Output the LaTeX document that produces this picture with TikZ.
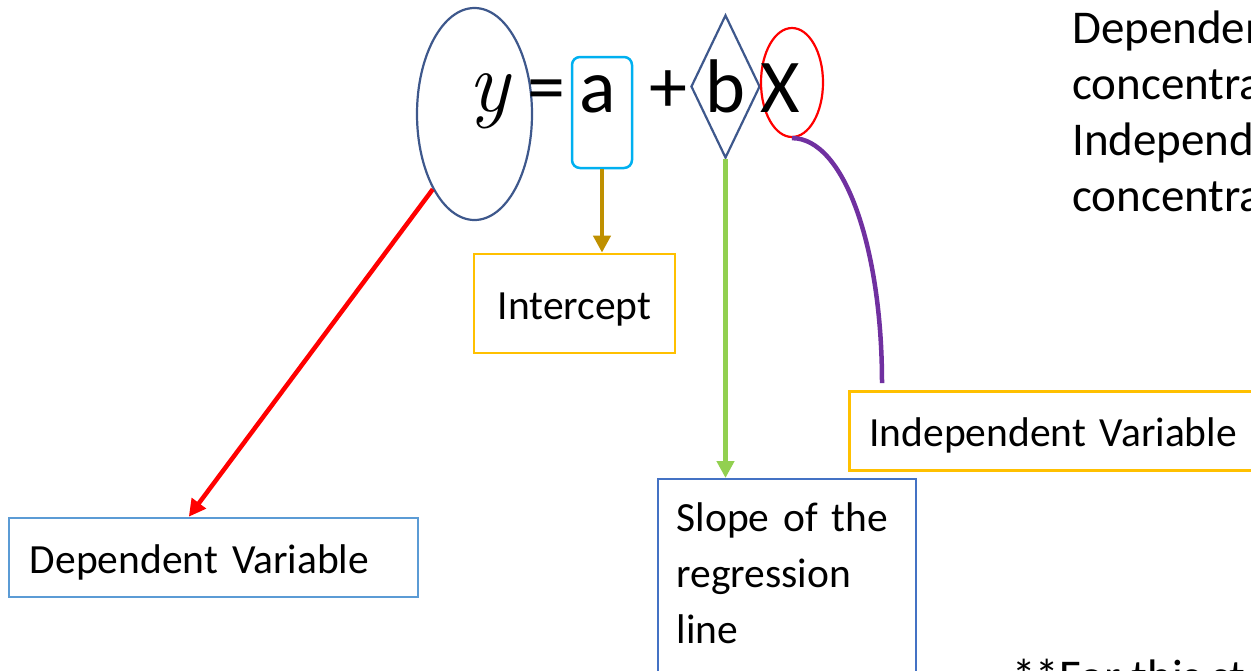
\documentclass[tikz,border=0pt]{standalone}
\usepackage{fontspec}
\setmainfont{Carlito}
\newfontfamily\lmfont{Latin Modern Roman}
\usetikzlibrary{shapes.geometric,arrows.meta,calc}

\definecolor{ellblue}{RGB}{62,88,140}
\definecolor{cyanbox}{RGB}{0,176,240}
\definecolor{goldbox}{RGB}{255,192,0}
\definecolor{bluebox}{RGB}{91,155,213}
\definecolor{slopeblue}{RGB}{68,114,196}
\definecolor{brownarr}{RGB}{191,144,0}
\definecolor{greenarr}{RGB}{146,208,80}
\definecolor{purplearr}{RGB}{112,48,160}

\newcommand\labelfont{\fontsize{41.5}{56}\selectfont}
\newcommand\sidefont{\fontsize{47}{56}\selectfont}

\tikzset{
  eqglyph/.style={anchor=base, inner sep=0pt, font=\fontsize{76}{76}\selectfont},
  markshape/.style={draw, line width=2.2pt, inner sep=0pt},
  labelbox/.style={draw, inner sep=0pt, font=\labelfont},
  oneline/.style={text height=40pt, text depth=9pt},
  goldlabel/.style={labelbox, oneline, draw=goldbox, line width=2.8pt},
  bluelabel/.style={labelbox, oneline, draw=bluebox, line width=2.5pt},
  pointer/.style={line width=4.5pt, -{Triangle[length=17pt,width=17pt]}},
  sidetext/.style={inner sep=0pt, align=left, font=\sidefont},
}

\begin{document}
\begin{tikzpicture}[x=1pt, y=-1pt]
\useasboundingbox (0,0) rectangle (1251,670);
\clip (0,0) rectangle (1251,670);

% marks around the terms of the equation
\node[markshape, ellipse, draw=ellblue, minimum width=115pt, minimum height=212pt] (yell) at (474.5,114) {};
\node[markshape, rectangle, rounded corners=8pt, draw=cyanbox, line width=2.5pt,
      minimum width=60pt, minimum height=111pt] (abox) at (602,112.5) {};
\node[markshape, diamond, draw=ellblue, minimum width=69pt, minimum height=143pt] (bdiam) at (725.5,86.5) {};
\node[markshape, ellipse, draw=red, minimum width=62pt, minimum height=109pt] (xell) at (792,82.5) {};

% the equation y = a + bX
\node[eqglyph, font=\fontsize{86}{86}\selectfont\lmfont\itshape] (ysym) at (489,111) {y};
\node[eqglyph] (eqsign) at (546,112) {=};
\node[eqglyph] (asym) at (597.5,112) {a};
\node[eqglyph] (plus) at (668.5,112) {+};
\node[eqglyph] (bsym) at (725,112) {b};
\node[eqglyph] (xsym) at (780.5,112) {X};

% labels
\node[goldlabel, minimum width=201pt, minimum height=99pt] (intercept) at (574.5,303.5) {Intercept};
\node[bluelabel, text width=367pt, inner xsep=21pt, minimum height=79pt, align=left] (dep) at (213.5,557.5) {Dependent Variable};
\node[goldlabel, anchor=north west, text width=400pt, inner xsep=20pt, minimum height=79pt, align=left] (indep) at (848,390) {Independent Variable};
\node[labelbox, draw=slopeblue, line width=1.5pt, anchor=north west, text width=220pt,
      inner xsep=19pt, inner ysep=24pt, align=left] (slope) at (657,478)
      {Slope of the\\regression\\line\rule[-40pt]{0pt}{0pt}};

% notes on the right
\node[sidetext, anchor=north west] (note) at (1072,11) {Dependent\\concentration\\Independent\\concentration};
\node[sidetext, anchor=base west] (foot) at (1012,692) {**For this st};

% connectors
\draw[pointer, brownarr] (abox.south) -- (abox.south |- intercept.north);
\draw[pointer, greenarr] (bdiam.south) -- (bdiam.south |- slope.north);
\draw[pointer, red] (yell.-119) -- ($(dep.north west)!0.44!(dep.north east)$);
\coordinate (xend) at ($(indep.north west)+(34,-7)$);
\draw[purplearr, line width=4.5pt] (xell.south) .. controls +(52,0) and +(0,-136) .. (xend);
\end{tikzpicture}
\end{document}
